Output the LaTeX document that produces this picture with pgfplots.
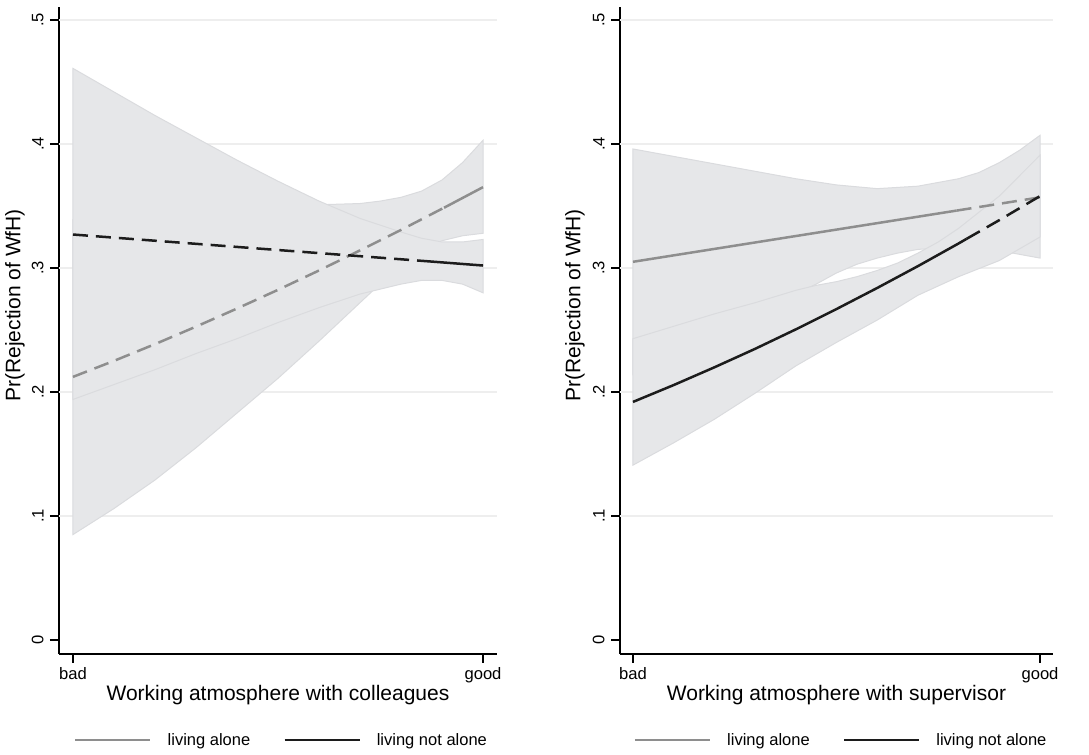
\documentclass[border=0pt]{standalone}
\usepackage{fontspec}
\setmainfont{Liberation Sans}
\usepackage{pgfplots}
\pgfplotsset{compat=1.18}
\usepackage{pgfplotstable}
\definecolor{cifill}{HTML}{E6E7E9}
\definecolor{ciedge}{HTML}{DADBDE}
\definecolor{grayline}{HTML}{8E8E8E}
\definecolor{blackline}{HTML}{1C1C1C}
\definecolor{gridc}{HTML}{EEEEEE}
\newcommand{\tickfont}{\fontsize{8.3}{10}\selectfont}

% Left panel: colleagues (band outlines: upper bound forward, lower bound backward)
\pgfplotstableread{
x y
0 0.339
0.1 0.341
0.2 0.343
0.3 0.345
0.4 0.347
0.5 0.349
0.6 0.351
0.7 0.352
0.75 0.354
0.8 0.357
0.85 0.362
0.9 0.371
0.95 0.385
1 0.403
1 0.328
0.95 0.326
0.9 0.322
0.85 0.315
0.8 0.303
0.7 0.272
0.6 0.241
0.5 0.211
0.4 0.183
0.3 0.155
0.2 0.129
0.1 0.106
0 0.085
}\LgCI
\pgfplotstableread{
x y
0 0.461
0.1 0.442
0.2 0.423
0.3 0.405
0.4 0.387
0.5 0.370
0.6 0.354
0.7 0.340
0.8 0.329
0.85 0.324
0.9 0.321
0.95 0.321
1 0.323
1 0.280
0.95 0.287
0.9 0.290
0.85 0.290
0.8 0.287
0.7 0.279
0.6 0.268
0.5 0.256
0.4 0.243
0.3 0.231
0.2 0.218
0.1 0.206
0 0.194
}\LbCI
\pgfplotstableread{
x y
0 0.2122
0.1 0.2251
0.2 0.2386
0.3 0.2527
0.4 0.2673
0.5 0.2824
0.6 0.2980
0.7 0.3142
0.8 0.3307
0.9 0.3478
0.905 0.3486
}\LgDash
\pgfplotstableread{
x y
0.905 0.3486
1 0.3652
}\LgSolid
\pgfplotstableread{
x y
0 0.3270
0.5 0.3145
0.866 0.3054
}\LbDash
\pgfplotstableread{
x y
0.866 0.3054
1 0.3020
}\LbSolid

% Right panel: supervisor
\pgfplotstableread{
x y
0 0.396
0.1 0.390
0.2 0.384
0.3 0.378
0.4 0.372
0.5 0.367
0.6 0.364
0.7 0.366
0.8 0.372
0.85 0.377
0.9 0.385
0.95 0.395
1 0.407
1 0.308
0.9 0.314
0.8 0.317
0.7 0.315
0.65 0.312
0.6 0.308
0.55 0.303
0.5 0.296
0.45 0.287
0.4 0.279
0.3 0.263
0.2 0.247
0.1 0.230
0 0.214
}\RgCI
\pgfplotstableread{
x y
0 0.243
0.1 0.253
0.2 0.263
0.3 0.272
0.4 0.282
0.45 0.286
0.5 0.289
0.55 0.293
0.6 0.298
0.65 0.304
0.7 0.312
0.75 0.321
0.8 0.332
0.9 0.358
1 0.391
1 0.325
0.9 0.306
0.8 0.293
0.7 0.278
0.6 0.258
0.5 0.240
0.4 0.221
0.3 0.199
0.2 0.178
0.1 0.159
0 0.141
}\RbCI
\pgfplotstableread{
x y
0 0.3050
0.795 0.3463
}\RgSolid
\pgfplotstableread{
x y
0.795 0.3463
1 0.3570
}\RgDash
\pgfplotstableread{
x y
0 0.1920
0.1 0.2056
0.2 0.2199
0.3 0.2348
0.4 0.2505
0.5 0.2669
0.6 0.2839
0.7 0.3015
0.8 0.3198
0.82 0.3236
}\RbSolid
\pgfplotstableread{
x y
0.82 0.3236
0.9 0.3386
1 0.3580
}\RbDash

\pgfplotsset{
  panel/.style={
    scale only axis,
    height=323.5pt,
    axis x line*=bottom, axis y line*=left,
    axis line style={line width=0.85pt, black},
    ymin=-0.0113, ymax=0.5105,
    xtick={0,1}, xticklabels={bad,good},
    ytick={0,0.1,0.2,0.3,0.4,0.5}, yticklabels={0,.1,.2,.3,.4,.5},
    ymajorgrids=false,
    tick align=outside, major tick length=4.5pt,
    tick style={line width=0.85pt, black},
    /pgf/number format/assume math mode=true,
    tick label style={font=\tickfont},
    yticklabel style={font=\tickfont, rotate=90, anchor=south, inner sep=0pt},
    yticklabel shift=3pt,
    xticklabel style={font=\tickfont, inner sep=0pt},
    xticklabel shift=2pt,
    label style={font=\fontsize{10.5}{12}\selectfont},
    xlabel style={at={(axis description cs:0.5,0)}, anchor=base, yshift=-23.5pt},
    ylabel={Pr(Rejection of WfH)},
    legend style={at={(axis description cs:0.5,0)}, anchor=center, yshift=-43.5pt,
      draw=none, fill=none, inner sep=0pt, outer sep=0pt,
      font=\fontsize{8.25}{10}\selectfont,
      nodes={inner sep=0pt},
      column sep=0pt,
      /tikz/every odd column/.append style={column sep=8pt},
      /tikz/every even column/.append style={column sep=16.5pt}},
    legend columns=2,
    legend image code/.code={\draw[##1] (0pt,0.05em) -- (37.5pt,0.05em);},
    ciband/.style={fill=cifill, draw=ciedge, line width=0.5pt, forget plot},
    gridl/.style={gridc, line width=0.7pt, forget plot},
    gline/.style={grayline, line width=1.25pt, forget plot},
    bline/.style={blackline, line width=1.25pt, forget plot},
    dsh/.style={dash pattern=on 7.5pt off 4pt},
  }
}

\begin{document}
\begin{tikzpicture}
\useasboundingbox (0,0) rectangle (544.5pt,377.5pt);

\begin{axis}[panel, at={(29.5pt,50.5pt)}, anchor=south west,
  width=219pt, xmin=-0.0341, xmax=1.0341,
  xlabel={Working atmosphere with colleagues},
  ylabel style={at={(axis description cs:-0.1005,0.539)}, anchor=center},
  legend style={xshift=1.25pt}]
\addplot[gridl] coordinates {(-0.0341,0.1) (1.0341,0.1)};
\addplot[gridl] coordinates {(-0.0341,0.2) (1.0341,0.2)};
\addplot[gridl] coordinates {(-0.0341,0.3) (1.0341,0.3)};
\addplot[gridl] coordinates {(-0.0341,0.4) (1.0341,0.4)};
\addplot[gridl] coordinates {(-0.0341,0.5) (1.0341,0.5)};
\addplot[ciband] table[x=x,y=y]{\LgCI} -- cycle;
\addplot[ciband] table[x=x,y=y]{\LbCI} -- cycle;
\addplot[gline, dsh] table[x=x,y=y]{\LgDash};
\addplot[gline] table[x=x,y=y]{\LgSolid};
\addplot[bline, dsh] table[x=x,y=y]{\LbDash};
\addplot[bline] table[x=x,y=y]{\LbSolid};
\addlegendimage{grayline, line width=1.3pt}
\addlegendentry{living alone}
\addlegendimage{blackline, line width=1.3pt}
\addlegendentry{living not alone}
\end{axis}

\begin{axis}[panel, at={(310pt,50.5pt)}, anchor=south west,
  width=216.5pt, xmin=-0.0319, xmax=1.0319,
  xlabel={Working atmosphere with supervisor},
  ylabel style={at={(axis description cs:-0.104,0.539)}, anchor=center},
  legend style={xshift=1.75pt}]
\addplot[gridl] coordinates {(-0.0319,0.1) (1.0319,0.1)};
\addplot[gridl] coordinates {(-0.0319,0.2) (1.0319,0.2)};
\addplot[gridl] coordinates {(-0.0319,0.3) (1.0319,0.3)};
\addplot[gridl] coordinates {(-0.0319,0.4) (1.0319,0.4)};
\addplot[gridl] coordinates {(-0.0319,0.5) (1.0319,0.5)};
\addplot[ciband] table[x=x,y=y]{\RgCI} -- cycle;
\addplot[ciband] table[x=x,y=y]{\RbCI} -- cycle;
\addplot[gline] table[x=x,y=y]{\RgSolid};
\addplot[gline, dsh] table[x=x,y=y]{\RgDash};
\addplot[bline] table[x=x,y=y]{\RbSolid};
\addplot[bline, dsh] table[x=x,y=y]{\RbDash};
\addlegendimage{grayline, line width=1.3pt}
\addlegendentry{living alone}
\addlegendimage{blackline, line width=1.3pt}
\addlegendentry{living not alone}
\end{axis}
\end{tikzpicture}
\end{document}
